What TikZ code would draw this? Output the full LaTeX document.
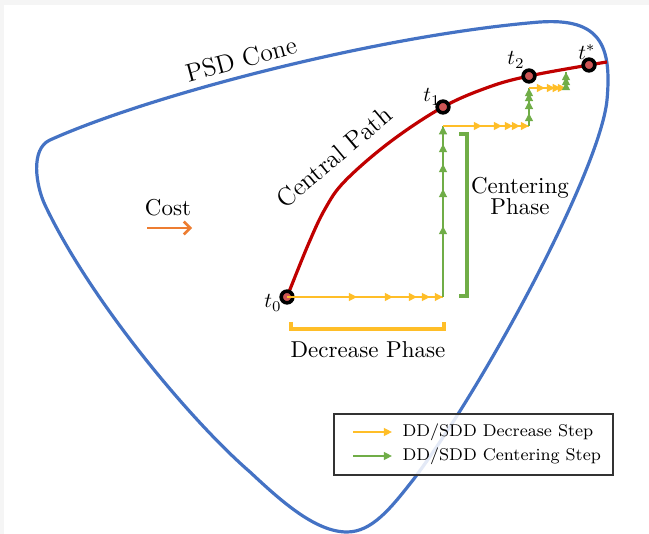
\documentclass[tikz,border=0pt]{standalone}
\usepackage{tikz}
\usetikzlibrary{%
   arrows.meta,%
   backgrounds,%
   decorations.markings}

\definecolor{coneblue}{RGB}{68,114,196}
\definecolor{pathred}{RGB}{192,0,0}
\definecolor{markred}{RGB}{205,85,85}
\definecolor{ddyellow}{RGB}{255,190,40}
\definecolor{ddgreen}{RGB}{112,173,71}
\definecolor{costorange}{RGB}{237,125,49}

\begin{document}
\begin{tikzpicture}
	[x=0.47pt,y=-0.47pt,>={Triangle[length=3.8pt,width=3.6pt]},
	cone/.style={draw=coneblue,line width=1.5pt},
	central/.style={draw=pathred,line width=1.5pt},
	marker/.style={circle,draw=black,line width=1.7pt,fill=markred,inner sep=0pt,minimum size=5.5pt},
	decrease/.style={color=ddyellow,line width=1pt},
	centering/.style={color=ddgreen,line width=1pt},
	tipat/.style={postaction={decorate,decoration={markings,mark=at position #1 with {\arrow{>}}}}},
	phase/.style={line width=1.7pt},
	lbl/.style={font=\fontsize{10.8}{10}\selectfont,inner sep=0pt,align=center},
	big lbl/.style={font=\fontsize{12}{14}\selectfont,inner sep=0pt},
	leg/.style={font=\footnotesize,anchor=west}]
	\useasboundingbox (0,0) rectangle (649,534);
	\node [marker] (t0) at (287,297) {};
	\node [marker] (t1) at (443,107) {};
	\node [marker] (t2) at (529,76) {};
	\node [marker] (tstar) at (589,65) {};
	\node (l0) at (273,303) {$t_0$};
	\node (l1) at (432,97) {$t_1$};
	\node (l2) at (516,60) {$t_2$};
	\node (lstar) at (587,52) {$t^*$};
	\coordinate (c1) at (443,297);
	\coordinate (c2) at (443,126);
	\coordinate (c3) at (529,126);
	\coordinate (c4) at (529,88);
	\coordinate (c5) at (566,88);
	\coordinate (c6) at (566,72);
	\draw [decrease,tipat/.list={0.449,0.679,0.833,0.917,0.999}] (t0.center) -- (c1);
	\draw [centering,tipat/.list={0.415,0.632,0.778,0.895,0.999}] (c1) -- (c2);
	\draw [decrease,tipat/.list={0.453,0.686,0.814,0.895,0.999}] (c2) -- (c3);
	\draw [centering,tipat/.list={0.34,0.66,0.87,0.999}] (c3) -- (c4);
	\draw [decrease,tipat/.list={0.43,0.70,0.86,0.999}] (c4) -- (c5);
	\draw [centering,tipat/.list={0.37,0.69,0.999}] (c5) -- (c6);
	\draw [phase,ddgreen] (459,134) -- (467,134) -- (467,296) -- (459,296);
	\draw [phase,ddyellow] (291,322) -- (291,329) -- (444,329) -- (444,322);
	\node [lbl] (cphase) at (520,196) {Centering\\Phase};
	\node [lbl] (dphase) at (368,350) {Decrease Phase};
	\node [lbl] (cost) at (168,208) {Cost};
	\coordinate (costa) at (147,228);
	\coordinate (costb) at (192,228);
	\draw [costorange,line width=1.2pt,-{Straight Barb[length=3pt,width=6pt]}] (costa) -- (costb);
	\node [big lbl,rotate=15] (psd) at (241,59) {PSD Cone};
	\node [big lbl,rotate=40] (cpath) at (334,157) {Central Path};
	\begin{pgfonlayer}{background}
	\fill [black!4] (0,0) rectangle (649,534);
	\fill [white] (4,5) rectangle (649,534);
	\draw [cone] (50,140) .. controls (150,95) and (380,35) .. (540,22)
		.. controls (600,18) and (612,45) .. (607,100)
		.. controls (600,170) and (485,385) .. (413,480)
		.. controls (391,508) and (372,532) .. (347,532)
		.. controls (315,532) and (280,500) .. (250,472)
		.. controls (190,420) and (90,300) .. (45,205)
		.. controls (36,186) and (30,149) .. (50,140) -- cycle;
	\draw [central] plot [smooth,tension=0.6] coordinates {(t0.center) (308,245) (325,209) (345,181)
		(390,142) (t1.center) (489,87) (t2.center) (tstar.center) (607,62)};
	\end{pgfonlayer}
	\draw [black!80,line width=0.6pt,fill=white,fill opacity=0.85] (334,414) rectangle (613,475);
	\node [leg] (leg1) at (395,432) {DD/SDD Decrease Step};
	\node [leg] (leg2) at (395,456) {DD/SDD Centering Step};
	\coordinate (a1) at (353,432);
	\coordinate (a2) at (353,456);
	\draw [decrease,->,shorten >=1.4pt] (a1) -- (leg1.west);
	\draw [centering,->,shorten >=1.4pt] (a2) -- (leg2.west);
\end{tikzpicture}
\end{document}
